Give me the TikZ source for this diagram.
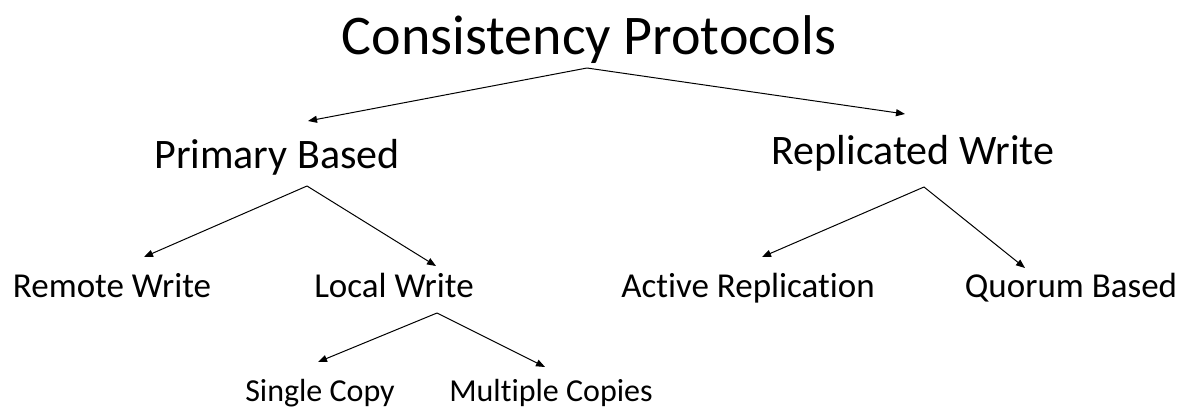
\documentclass[tikz,border=0pt]{standalone}
\usepackage{fontspec}
\setmainfont[Ligatures=NoCommon]{Carlito}
\usepackage{tikz}
\usetikzlibrary{arrows.meta}

\tikzset{
    lbl/.style={anchor=base, inner sep=0pt},
    arr/.style={-{Triangle[length=9pt,width=7pt]}, line width=1pt},
}

\begin{document}
\begin{tikzpicture}[x=1pt, y=-1pt]
    \useasboundingbox (0,0) rectangle (1185,409);
    % levels
    \node[lbl, font=\fontsize{56}{60}\selectfont] (cp) at (589,55) {Consistency Protocols};
    \node[lbl, font=\fontsize{42}{46}\selectfont] (pb) at (277,168) {Primary Based};
    \node[lbl, font=\fontsize{42}{46}\selectfont] (rw) at (913,164) {Replicated Write};
    \node[lbl, font=\fontsize{35}{40}\selectfont] (rem) at (112,297) {Remote Write};
    \node[lbl, font=\fontsize{35}{40}\selectfont] (loc) at (394,297) {Local Write};
    \node[lbl, font=\fontsize{35}{40}\selectfont] (act) at (748,297) {Active Replication};
    \node[lbl, font=\fontsize{35}{40}\selectfont] (quo) at (1071,297) {Quorum Based};
    \node[lbl, font=\fontsize{32}{36}\selectfont] (sc) at (320,401) {Single Copy};
    \node[lbl, font=\fontsize{32}{36}\selectfont] (mc) at (551,401) {Multiple Copies};
    % arrows
    \draw[arr] ([xshift=-2pt,yshift=-13pt]cp.base) -- ([xshift=31pt,yshift=47pt]pb.base);
    \draw[arr] ([xshift=-2pt,yshift=-13pt]cp.base) -- ([xshift=-8pt,yshift=50pt]rw.base);
    \draw[arr] ([xshift=30pt,yshift=-18pt]pb.base) -- ([xshift=32pt,yshift=40pt]rem.base);
    \draw[arr] ([xshift=30pt,yshift=-18pt]pb.base) -- ([xshift=42pt,yshift=31pt]loc.base);
    \draw[arr] ([xshift=11pt,yshift=-23pt]rw.base) -- ([xshift=14pt,yshift=40pt]act.base);
    \draw[arr] ([xshift=11pt,yshift=-23pt]rw.base) -- ([xshift=-46pt,yshift=29pt]quo.base);
    \draw[arr] ([xshift=43pt,yshift=-16pt]loc.base) -- ([xshift=-2pt,yshift=39pt]sc.base);
    \draw[arr] ([xshift=43pt,yshift=-16pt]loc.base) -- ([xshift=-6pt,yshift=34pt]mc.base);
\end{tikzpicture}
\end{document}
